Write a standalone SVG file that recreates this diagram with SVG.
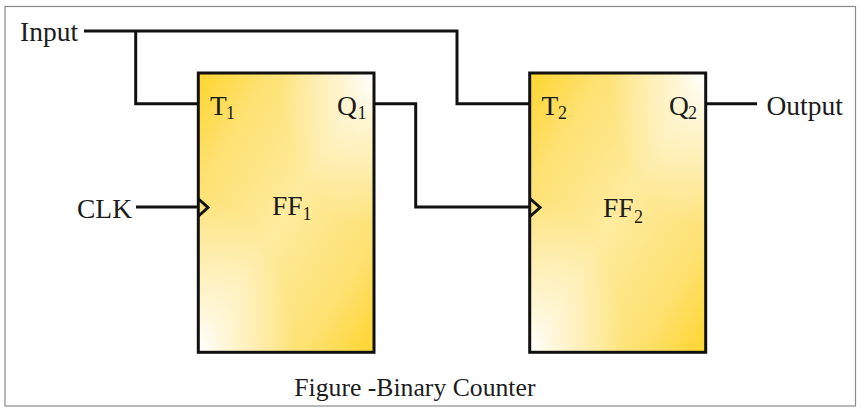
<svg xmlns="http://www.w3.org/2000/svg" width="861" height="413" viewBox="0 0 861 413">
<style>
.t{font-family:"Liberation Serif","Times New Roman",serif;font-size:27.5px;fill:#1c1c1c}
.c{font-family:"Liberation Serif","Times New Roman",serif;font-size:25.7px;fill:#1c1c1c}
.s{font-family:"Liberation Serif","Times New Roman",serif;font-size:18px;fill:#1c1c1c}
.w{fill:none;stroke:#111;stroke-width:3;stroke-linejoin:miter}
.box{stroke:#111;stroke-width:3}
</style>
<defs>
<linearGradient id="base" x1="0" y1="0" x2="1" y2="1">
<stop offset="0" stop-color="#ffd52e"/><stop offset="0.2" stop-color="#fee171"/><stop offset="0.5" stop-color="#feeb9e"/><stop offset="0.8" stop-color="#fee171"/><stop offset="1" stop-color="#ffd52e"/>
</linearGradient>
<radialGradient id="tr" cx="1" cy="0" r="0.55">
<stop offset="0" stop-color="#fff" stop-opacity="1"/><stop offset="0.3" stop-color="#fff" stop-opacity="0.6"/><stop offset="1" stop-color="#fff" stop-opacity="0"/>
</radialGradient>
<radialGradient id="bl" cx="0" cy="1" r="0.55">
<stop offset="0" stop-color="#fff" stop-opacity="1"/><stop offset="0.3" stop-color="#fff" stop-opacity="0.6"/><stop offset="1" stop-color="#fff" stop-opacity="0"/>
</radialGradient>
</defs>
<rect x="0" y="0" width="861" height="413" fill="#fff"/>
<rect id="frame" x="5" y="6.5" width="850.5" height="399.5" fill="none" stroke="#8a8a8a" stroke-width="1.2"/>
<g id="ff1">
<rect x="198.3" y="73" width="175.7" height="279.3" fill="url(#base)"/>
<rect x="198.3" y="73" width="175.7" height="279.3" fill="url(#tr)"/>
<rect x="198.3" y="73" width="175.7" height="279.3" fill="url(#bl)"/>
<rect x="198.3" y="73" width="175.7" height="279.3" fill="none" class="box"/>
<text class="t" x="210" y="114.7">T</text><text class="s" x="226" y="119">1</text>
<text class="t" x="337" y="114.7">Q</text><text class="s" x="357.5" y="119">1</text>
<text class="t" x="272" y="214.5">FF</text><text class="s" x="302.5" y="220">1</text>
</g>
<g id="ff2">
<rect x="529.7" y="73" width="176" height="279.3" fill="url(#base)"/>
<rect x="529.7" y="73" width="176" height="279.3" fill="url(#tr)"/>
<rect x="529.7" y="73" width="176" height="279.3" fill="url(#bl)"/>
<rect x="529.7" y="73" width="176" height="279.3" fill="none" class="box"/>
<text class="t" x="541.5" y="114.7">T</text><text class="s" x="558" y="119">2</text>
<text class="t" x="669" y="114.7">Q</text><text class="s" x="688" y="119">2</text>
<text class="t" x="603" y="217.3">FF</text><text class="s" x="634" y="222.5">2</text>
</g>
<g id="connectors">
<path class="w" d="M84 31H457V103.7H529"/>
<path class="w" d="M135.7 31V103.7H197"/>
<path class="w" d="M375 103.7H415.7V207H529"/>
<path class="w" d="M136 207H197"/>
<path class="w" d="M707 103.7H757"/>
<path class="w" d="M198 198.5L208 207.5L198 216.5"/>
<path class="w" d="M530 198.5L540 207.5L530 216.5"/>
</g>
<g id="labels">
<text class="t" x="20" y="40.5">Input</text>
<text class="t" x="77" y="217.5">CLK</text>
<text class="t" x="766.500" y="114.5">Output</text>
<text class="c" x="294.3" y="396">Figure -Binary Counter</text>
</g>
</svg>
